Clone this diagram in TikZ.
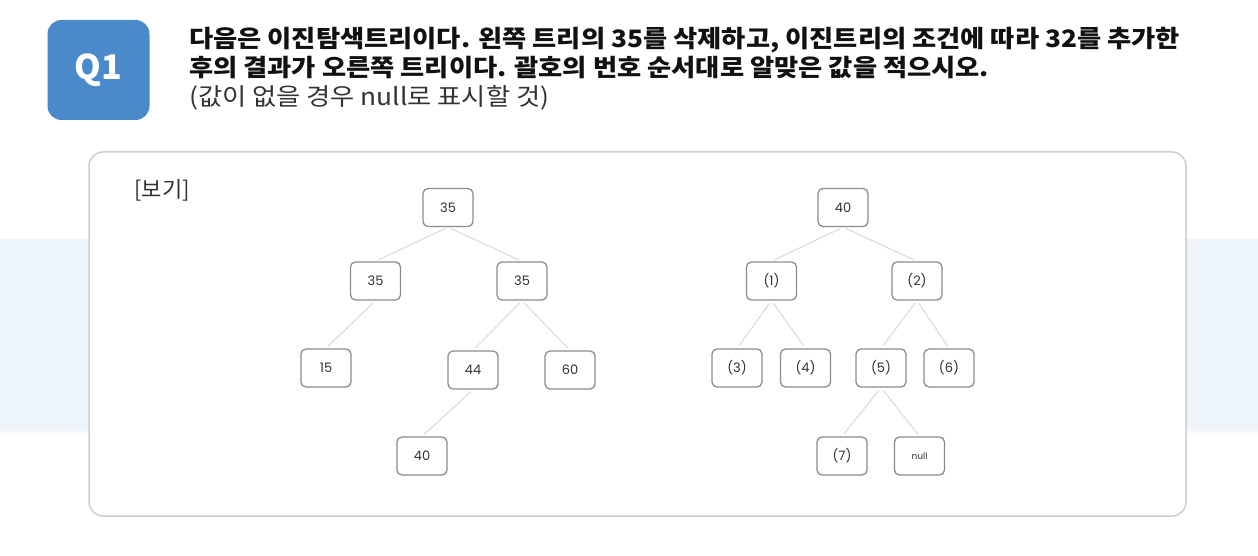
\documentclass[tikz,border=0pt]{standalone}
\usepackage{fontspec}
\newfontfamily\kr{Noto Sans CJK KR}
\newfontfamily\pop{Poppins}
\definecolor{qblue}{HTML}{4A8ACA}
\definecolor{band}{HTML}{EEF5FA}
\definecolor{frame}{HTML}{CFCFCF}
\definecolor{nodeb}{HTML}{8C8C8C}
\definecolor{edgec}{HTML}{D9D9D9}
\definecolor{txt}{HTML}{111111}
\definecolor{subtxt}{HTML}{333333}
\newcommand{\wide}[1]{\scalebox{1.095}[1]{#1}}
\begin{document}
\begin{tikzpicture}[x=1pt,y=-1pt,
  tn/.style={draw=nodeb, line width=1.3pt, rounded corners=5pt, fill=white,
    minimum width=50pt, minimum height=38pt, inner sep=0pt,
    font=\pop\fontsize{13}{15}\selectfont, text=subtxt},
  ed/.style={draw=edgec, line width=1pt, shorten <=3pt, shorten >=3pt},
  ttl/.style={anchor=base west, inner sep=0pt, text=txt, font=\kr\bfseries\fontsize{24}{28}\selectfont},
  sub/.style={anchor=base west, inner sep=0pt, text=subtxt, font=\kr\fontsize{24}{28}\selectfont}]
\useasboundingbox (0,0) rectangle (1258,556);
\fill[white] (0,0) rectangle (1258,556);
% light band
\fill[band] (0,239) rectangle (1258,428);
\shade[top color=band, bottom color=white] (0,428) rectangle (1258,436);
% main frame
\draw[frame, line width=1.5pt, fill=white, rounded corners=14pt] (89,152) rectangle (1186,516);
% badge
\node[fill=qblue, rounded corners=14pt, minimum width=102pt, minimum height=100pt, inner sep=0pt,
  text=white, font=\kr\bfseries\fontsize{34}{36}\selectfont] (q) at (98.5,70) {Q1};
% title
\node[ttl] (l1) at (189,48) {\wide{다음은 이진탐색트리이다. 왼쪽 트리의 35를 삭제하고, 이진트리의 조건에 따라 32를 추가한}};
\node[ttl] (l2) at (189,77) {\wide{후의 결과가 오른쪽 트리이다. 괄호의 번호 순서대로 알맞은 값을 적으시오.}};
\node[sub] (l3) at (189,106) {\wide{(값이 없을 경우 null로 표시할 것)}};
\node[anchor=center, inner sep=0pt, text=subtxt, font=\kr\fontsize{22}{24}\selectfont] (bogi) at (162,190) {[보기]};
% left tree
\node[tn] (a) at (448,207.5) {35};
\node[tn] (b) at (375.5,281) {35};
\node[tn] (c) at (522,281) {35};
\node[tn] (d) at (326,368) {15};
\node[tn] (e) at (473,370) {44};
\node[tn] (f) at (570,370) {60};
\node[tn] (g) at (422,456) {40};
\draw[ed] (a.south) -- (b.north);
\draw[ed] (a.south) -- (c.north);
\draw[ed] (b.south) -- (d.north);
\draw[ed] (c.south) -- (e.north);
\draw[ed] (c.south) -- (f.north);
\draw[ed] (e.south) -- (g.north);
% right tree
\node[tn] (r) at (843,207.5) {40};
\node[tn] (r1) at (771.5,281) {(1)};
\node[tn] (r2) at (917,281) {(2)};
\node[tn] (r3) at (737,368) {(3)};
\node[tn] (r4) at (805.5,368) {(4)};
\node[tn] (r5) at (881,368) {(5)};
\node[tn] (r6) at (949,368) {(6)};
\node[tn] (r7) at (842,456) {(7)};
\node[tn, font=\pop\fontsize{9}{11}\selectfont] (rn) at (919.5,456) {null};
\draw[ed] (r.south) -- (r1.north);
\draw[ed] (r.south) -- (r2.north);
\draw[ed] (r1.south) -- (r3.north);
\draw[ed] (r1.south) -- (r4.north);
\draw[ed] (r2.south) -- (r5.north);
\draw[ed] (r2.south) -- (r6.north);
\draw[ed] (r5.south) -- (r7.north);
\draw[ed] (r5.south) -- (rn.north);
\end{tikzpicture}
\end{document}
